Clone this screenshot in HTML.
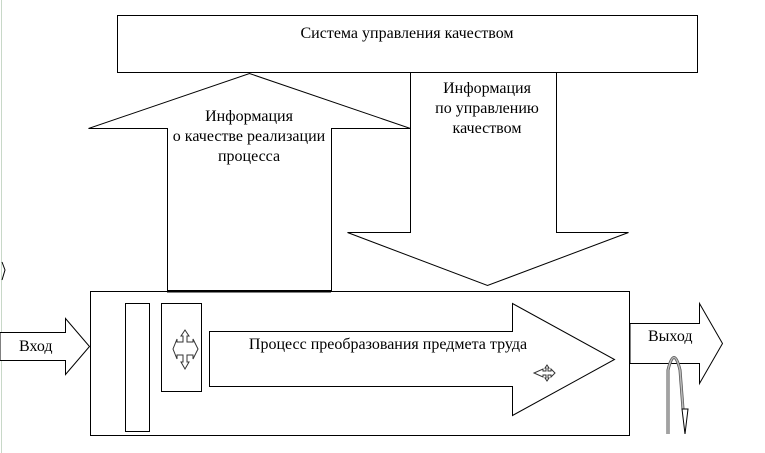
<!DOCTYPE html>
<html><head><meta charset="utf-8"><style>
html,body{margin:0;padding:0;background:#fff;}
svg{display:block;}
text{font-family:"Liberation Serif",serif;font-size:16px;fill:#000;}
</style></head><body>
<svg width="765" height="453" viewBox="0 0 765 453" xmlns="http://www.w3.org/2000/svg">
<line x1="1.5" y1="0" x2="1.5" y2="453" stroke="#c8d8c8" stroke-width="1"/>
<path d="M2 262 L5 270 L2 280" fill="none" stroke="#000" stroke-width="1"/>
<rect x="117.5" y="15.5" width="580" height="57" fill="#fff" stroke="#000"/>
<text x="407" y="38" text-anchor="middle">Система управления качеством</text>
<polygon points="167.5,290.5 167.5,128.5 88.5,128.5 249.5,73.5 410.5,128.5 331.5,128.5 331.5,290.5" fill="#fff" stroke="#000"/>
<text x="249" y="121" text-anchor="middle">Информация</text>
<text x="249" y="141" text-anchor="middle">о качестве реализации</text>
<text x="249" y="161" text-anchor="middle">процесса</text>
<polygon points="410.5,72.5 410.5,232.5 347.5,232.5 487.5,285.5 628.5,232.5 556.5,232.5 556.5,72.5" fill="#fff" stroke="#000"/>
<text x="487" y="93" text-anchor="middle">Информация</text>
<text x="487" y="113" text-anchor="middle">по управлению</text>
<text x="487" y="133" text-anchor="middle">качеством</text>
<rect x="90.5" y="291.5" width="539" height="144" fill="#fff" stroke="#000"/>
<line x1="167" y1="291.5" x2="331" y2="291.5" stroke="#000" stroke-width="2"/>
<rect x="125.5" y="303.5" width="24" height="128" fill="#fff" stroke="#000"/>
<rect x="161.5" y="303.5" width="40" height="88" fill="#fff" stroke="#000"/>
<polygon points="209.5,331.5 512.5,331.5 512.5,303.5 614.5,359.5 512.5,415.5 512.5,386.5 209.5,386.5" fill="#fff" stroke="#000"/>
<text x="388" y="349" text-anchor="middle">Процесс преобразования предмета труда</text>
<g fill="#fff" stroke="#333" stroke-width="1">
<path d="M185 330 L189 336 L187 336 L187 342 L193 342 L193 339 L198 349 L193 359 L193 355 L187 355 L187 362 L189 362 L185 369 L181 362 L183 362 L183 355 L177 355 L177 359 L173 349 L177 339 L177 342 L183 342 L183 336 L181 336 Z"/>
<path d="M547 365 L549 368 L548 368 L548 371 L551 371 L551 369 L555 373 L551 377 L551 375 L548 375 L548 378 L549 378 L547 381 L545 378 L546 378 L546 375 L543 375 L543 377 L534 373 L543 369 L543 371 L546 371 L546 368 L545 368 Z"/>
</g>
<polygon points="0,332.5 65.5,332.5 65.5,318.5 89.5,346.5 65.5,374.5 65.5,360.5 0,360.5" fill="#fff" stroke="#000"/>
<text x="19" y="351">Вход</text>
<polygon points="630,323.5 699.5,323.5 699.5,303.5 722.5,343.5 699.5,383.5 699.5,363.5 630,363.5" fill="#fff" stroke="#000"/>
<text x="648" y="341">Выход</text>
<path d="M668 434 L668 370 Q674 345 680 370 L683 409" fill="none" stroke="#555" stroke-width="3"/>
<path d="M668 434 L668 370 Q674 345 680 370 L683 409" fill="none" stroke="#bbb" stroke-width="1.5"/>
<polygon points="682,409 688,409 685,434" fill="#fff" stroke="#000"/>
</svg>
</body></html>
